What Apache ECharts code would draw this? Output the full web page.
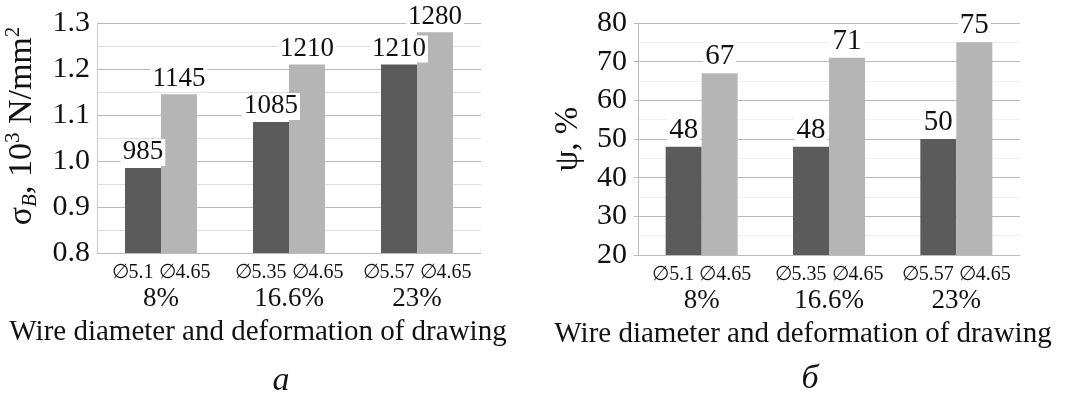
<!DOCTYPE html>
<html>
<head>
<meta charset="utf-8">
<script src="https://cdn.jsdelivr.net/npm/echarts@6/dist/echarts.min.js"></script>
<style>
  html, body { margin: 0; padding: 0; background: #fff; }
  #chart { width: 1071px; height: 396px; }
</style>
</head>
<body>
<div id="chart"></div>
<script>
// drawing deformation groups and wire diameters (before / after)
const deformations = ['8%', '16.6%', '23%'];
const startDiameters = ['5.1', '5.35', '5.57'];
const endDiameters = ['4.65', '4.65', '4.65'];

// tensile strength, N/mm2
const strengthStart = [985, 1085, 1210];
const strengthEnd = [1145, 1210, 1280];

// reduction of area, %
const psiStart = [48, 48, 50];
const psiEnd = [67, 71, 75];

const FONT = "'Liberation Serif', 'Times New Roman', serif";
const DARK = '#5b5b5b';
const LIGHT = '#b5b5b5';

const chart = echarts.init(document.getElementById('chart'), null, { renderer: 'canvas' });

function catLabel(value, idx) {
  return '{d|\u2205' + startDiameters[idx] + ' \u2205' + endDiameters[idx] + '}\n{p|' + value + '}';
}

const xAxisBase = {
  type: 'category',
  data: deformations,
  axisTick: { show: false },
  axisLine: { lineStyle: { color: '#bbbbbb', width: 1 } },
  axisLabel: {
    interval: 0,
    hideOverlap: false,
    margin: 8,
    formatter: catLabel,
    fontFamily: FONT,
    color: '#111',
    rich: {
      d: { fontSize: 20, lineHeight: 24, fontFamily: FONT, color: '#111' },
      p: { fontSize: 27, lineHeight: 28, fontFamily: FONT, color: '#111' }
    }
  },
  name: 'Wire diameter and deformation of drawing',
  nameLocation: 'middle',
  nameGap: 61,
  nameTextStyle: {
    fontFamily: FONT, fontSize: 29, color: '#111', lineHeight: 30,
    padding: [0, 62, 0, 0]
  }
};

function barLabel(size) {
  return {
    show: true,
    position: 'top',
    distance: 2,
    fontFamily: FONT,
    fontSize: size,
    color: '#111',
    backgroundColor: '#fff',
    padding: [0, 2, 0, 2]
  };
}

chart.setOption({
  animation: false,
  grid: [
    { left: 97, top: 23, width: 384, height: 230, outerBoundsMode: 'none', containLabel: false },
    { left: 638, top: 23, width: 382, height: 232, outerBoundsMode: 'none', containLabel: false }
  ],
  xAxis: [
    Object.assign({ gridIndex: 0 }, xAxisBase),
    Object.assign({ gridIndex: 1 }, xAxisBase, {
      nameGap: 59,
      nameTextStyle: Object.assign({}, xAxisBase.nameTextStyle, { padding: [0, 52, 0, 0] })
    })
  ],
  yAxis: [
    {
      gridIndex: 0,
      type: 'value',
      min: 800,
      max: 1300,
      interval: 100,
      axisLine: { show: true, lineStyle: { color: '#cccccc' } },
      axisTick: { show: false },
      axisLabel: {
        margin: 7,
        fontFamily: FONT, fontSize: 30, color: '#111',
        formatter: (v) => (v / 1000).toFixed(1)
      },
      splitLine: { lineStyle: { color: '#b9b9b9' } },
      minorTick: { show: false, splitNumber: 2 },
      minorSplitLine: { show: true, lineStyle: { color: '#dedede' } },
      name: '{t|\u03c3}{sub|B}{t|, 10}{sup|3}{t| N/mm}{sup|2}',
      nameLocation: 'middle',
      nameRotate: 90,
      nameGap: 56,
      nameTextStyle: {
        padding: [0, 0, 0, 24],
        rich: {
          t: { fontFamily: FONT, fontSize: 34, color: '#111', lineHeight: 38 },
          sub: { fontFamily: FONT, fontSize: 21, fontStyle: 'italic', color: '#111', verticalAlign: 'bottom', lineHeight: 38 },
          sup: { fontFamily: FONT, fontSize: 21, color: '#111', verticalAlign: 'top', lineHeight: 38 }
        }
      }
    },
    {
      gridIndex: 1,
      type: 'value',
      min: 20,
      max: 80,
      interval: 10,
      axisLine: { show: true, lineStyle: { color: '#bbbbbb' } },
      axisTick: { show: true, length: 4, lineStyle: { color: '#bbbbbb' } },
      axisLabel: { margin: 11, fontFamily: FONT, fontSize: 30, color: '#111' },
      splitLine: { lineStyle: { color: '#b9b9b9' } },
      minorTick: { show: false, splitNumber: 2 },
      minorSplitLine: { show: true, lineStyle: { color: '#f0f0f0' } },
      name: '\u03c8, %',
      nameLocation: 'middle',
      nameRotate: 90,
      nameGap: 53,
      nameTextStyle: { fontFamily: FONT, fontSize: 33, color: '#111' }
    }
  ],
  series: [
    { type: 'bar', xAxisIndex: 0, yAxisIndex: 0, data: strengthStart, barWidth: 36, barGap: '0%', itemStyle: { color: DARK }, label: barLabel(27) },
    { type: 'bar', xAxisIndex: 0, yAxisIndex: 0, data: strengthEnd, barWidth: 36, barGap: '0%', itemStyle: { color: LIGHT }, label: barLabel(27) },
    { type: 'bar', xAxisIndex: 1, yAxisIndex: 1, data: psiStart, barWidth: 36, barGap: '0%', itemStyle: { color: DARK }, label: barLabel(29) },
    { type: 'bar', xAxisIndex: 1, yAxisIndex: 1, data: psiEnd, barWidth: 36, barGap: '0%', itemStyle: { color: LIGHT }, label: barLabel(29) }
  ],
  graphic: [
    { type: 'text', x: 281, y: 381, style: { text: 'a', font: 'italic 34px ' + FONT, fill: '#111', align: 'center', verticalAlign: 'middle' } },
    { type: 'text', x: 810, y: 379, style: { text: '\u0431', font: 'italic 34px ' + FONT, fill: '#111', align: 'center', verticalAlign: 'middle' } }
  ]
});
</script>
</body>
</html>
